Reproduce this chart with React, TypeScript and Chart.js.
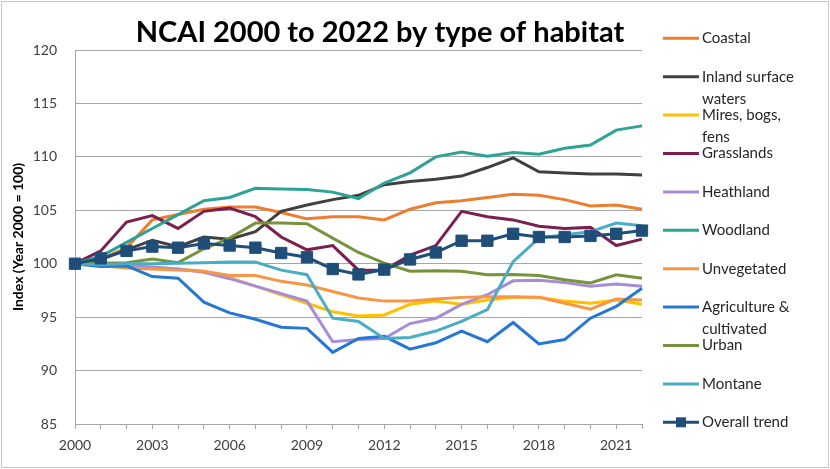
import React, { useEffect, useRef } from 'react';
import { Chart, registerables } from 'chart.js';

Chart.register(...registerables);

// Index values, year 2000 = 100
const years = [
  '2000', '2001', '2002', '2003', '2004', '2005', '2006', '2007', '2008', '2009', '2010', '2011',
  '2012', '2013', '2014', '2015', '2016', '2017', '2018', '2019', '2020', '2021', '2022',
];

const coastal = [100, 100.4, 101.5, 104.1, 104.6, 105.1, 105.3, 105.3, 104.8, 104.2, 104.4, 104.4, 104.1, 105.1, 105.7, 105.9, 106.2, 106.5, 106.4, 106.0, 105.4, 105.5, 105.1];
const inlandWaters = [100, 100.4, 101.3, 102.2, 101.6, 102.5, 102.3, 103.0, 104.9, 105.5, 106.0, 106.4, 107.4, 107.7, 107.9, 108.2, 109.0, 109.9, 108.6, 108.5, 108.4, 108.4, 108.3];
const mires = [100, 99.8, 99.7, 99.6, 99.5, 99.3, 98.7, 97.9, 97.1, 96.3, 95.5, 95.1, 95.2, 96.2, 96.5, 96.2, 96.6, 96.85, 96.85, 96.5, 96.3, 96.6, 96.2];
const grasslands = [100, 101.2, 103.9, 104.5, 103.3, 104.9, 105.2, 104.4, 102.5, 101.3, 101.7, 99.4, 99.4, 100.8, 101.7, 104.9, 104.4, 104.1, 103.5, 103.3, 103.4, 101.7, 102.3];
const heathland = [100, 99.9, 99.8, 99.7, 99.5, 99.2, 98.6, 97.9, 97.2, 96.5, 92.7, 92.9, 93.0, 94.4, 94.9, 96.2, 97.1, 98.4, 98.45, 98.25, 97.9, 98.1, 97.9];
const woodland = [100, 100.7, 102.0, 103.3, 104.6, 105.9, 106.2, 107.05, 107.0, 106.95, 106.7, 106.1, 107.55, 108.5, 110.0, 110.45, 110.05, 110.4, 110.25, 110.8, 111.1, 112.5, 112.9];
const unvegetated = [100, 99.8, 99.6, 99.5, 99.4, 99.3, 98.9, 98.9, 98.35, 98.0, 97.4, 96.8, 96.5, 96.5, 96.7, 96.85, 96.9, 96.9, 96.85, 96.3, 95.75, 96.7, 96.6];
const agriculture = [100, 99.75, 99.8, 98.8, 98.65, 96.4, 95.4, 94.8, 94.05, 93.95, 91.7, 93.0, 93.2, 92.0, 92.6, 93.7, 92.7, 94.5, 92.5, 92.9, 94.9, 96.0, 97.7];
const urban = [100, 100.05, 100.1, 100.45, 100.1, 101.4, 102.4, 103.8, 103.8, 103.75, 102.4, 101.05, 100.05, 99.3, 99.35, 99.3, 98.97, 99.0, 98.9, 98.5, 98.2, 98.97, 98.65];
const montane = [100, 99.9, 100.0, 100.0, 100.05, 100.1, 100.15, 100.15, 99.4, 98.97, 94.9, 94.6, 93.0, 93.1, 93.7, 94.6, 95.7, 100.2, 102.4, 102.7, 103.0, 103.8, 103.55];
const overallTrend = [100, 100.5, 101.2, 101.6, 101.5, 101.9, 101.7, 101.5, 101.0, 100.6, 99.5, 99.0, 99.45, 100.4, 101.05, 102.15, 102.15, 102.8, 102.5, 102.5, 102.6, 102.8, 103.1];

const seriesNames = [
  'Coastal', 'Inland surface waters', 'Mires, bogs, fens', 'Grasslands', 'Heathland', 'Woodland',
  'Unvegetated', 'Agriculture & cultivated', 'Urban', 'Montane', 'Overall trend',
];
const seriesValues = [
  coastal, inlandWaters, mires, grasslands, heathland, woodland,
  unvegetated, agriculture, urban, montane, overallTrend,
];
const seriesColors = [
  '#ED7D31', '#404040', '#FFC000', '#7A1F50', '#A88BD9', '#2EA296',
  '#F79646', '#2478D4', '#77933C', '#4BACC6', '#1F4E79',
];

const yTicks = { min: 85, max: 120, step: 5 };

const FONT = 'Lato, "Open Sans", sans-serif';
const AXIS_GREY = '#A6A6A6';

function wrapText(ctx: CanvasRenderingContext2D, text: string, maxWidth: number): string[] {
  const words = text.split(' ');
  const lines: string[] = [];
  let cur = '';
  for (const w of words) {
    const test = cur ? cur + ' ' + w : w;
    if (cur && ctx.measureText(test).width > maxWidth) {
      lines.push(cur);
      cur = w;
    } else {
      cur = test;
    }
  }
  if (cur) lines.push(cur);
  return lines;
}

// Title above the plot and the legend column at the right
const decorPlugin = {
  id: 'decor',
  afterDraw(chart: any) {
    const ctx: CanvasRenderingContext2D = chart.ctx;
    ctx.save();
    ctx.fillStyle = '#000';
    ctx.font = `bold 29px ${FONT}`;
    ctx.textAlign = 'center';
    ctx.textBaseline = 'middle';
    ctx.fillText('NCAI 2000 to 2022 by type of habitat', 380, 33);

    ctx.font = `15px ${FONT}`;
    ctx.textAlign = 'left';
    ctx.textBaseline = 'middle';
    chart.data.datasets.forEach((ds: any, i: number) => {
      const y = 38.3 + 38.4 * i;
      ctx.strokeStyle = ds.borderColor;
      ctx.lineWidth = 3;
      ctx.beginPath();
      ctx.moveTo(663, y);
      ctx.lineTo(699, y);
      ctx.stroke();
      if (ds.pointRadius > 0) {
        ctx.fillStyle = ds.borderColor;
        ctx.fillRect(676, y - 5, 10, 10);
      }
      ctx.fillStyle = '#262626';
      const lines = wrapText(ctx, ds.label, 110);
      lines.forEach((t, k) => ctx.fillText(t, 702, y + k * 22));
    });
    ctx.restore();
  },
};

export default function App() {
  const canvasRef = useRef<HTMLCanvasElement | null>(null);

  useEffect(() => {
    if (!canvasRef.current) return;
    const n = seriesNames.length;
    const chart = new Chart(canvasRef.current, {
      type: 'line',
      data: {
        labels: years,
        datasets: seriesNames.map((name, i) => {
          const isTrend = i === n - 1;
          return {
            label: name,
            data: seriesValues[i],
            borderColor: seriesColors[i],
            backgroundColor: seriesColors[i],
            borderWidth: 3,
            tension: 0,
            pointRadius: isTrend ? 8 : 0,
            pointStyle: 'rect',
            pointBorderWidth: 1,
            pointHoverRadius: isTrend ? 8 : 0,
            order: n - 1 - i,
          };
        }),
      },
      options: {
        responsive: true,
        maintainAspectRatio: false,
        animation: false,
        layout: { padding: { top: 50, right: 188, bottom: 0, left: 0 } },
        plugins: {
          legend: { display: false },
          title: { display: false },
          tooltip: { enabled: false },
        },
        scales: {
          x: {
            type: 'category',
            offset: false,
            grid: { drawOnChartArea: false, drawTicks: true, tickLength: 5, color: AXIS_GREY },
            border: { display: true, color: AXIS_GREY, width: 1 },
            ticks: {
              autoSkip: false,
              maxRotation: 0,
              padding: 8,
              color: '#404040',
              font: { family: FONT, size: 14 },
              callback: (_v: any, i: number) => (i % 3 === 0 ? years[i] : ''),
            },
            afterFit: (s: any) => { s.height = 45; },
          },
          y: {
            min: yTicks.min,
            max: yTicks.max,
            grid: { drawTicks: false, color: AXIS_GREY, lineWidth: 1 },
            border: { display: true, color: AXIS_GREY, width: 1 },
            ticks: {
              stepSize: yTicks.step,
              padding: 18,
              color: '#404040',
              font: { family: FONT, size: 14 },
            },
            title: {
              display: true,
              text: 'Index (Year 2000 = 100)',
              color: '#000',
              font: { family: FONT, size: 14, weight: 'bold' },
              padding: { top: 10, bottom: 0 },
            },
            afterFit: (s: any) => { s.width = 75; },
          },
        },
      },
      plugins: [decorPlugin],
    });
    return () => chart.destroy();
  }, []);

  return (
    <div
      style={{
        position: 'absolute',
        left: 0,
        top: 0,
        width: 830,
        height: 469,
        background: '#fff',
      }}
    >
      <canvas ref={canvasRef} />
      <div
        style={{
          position: 'absolute',
          left: 1,
          top: 1,
          width: 826,
          height: 465,
          border: '1px solid #C8C8C8',
          pointerEvents: 'none',
        }}
      />
    </div>
  );
}
